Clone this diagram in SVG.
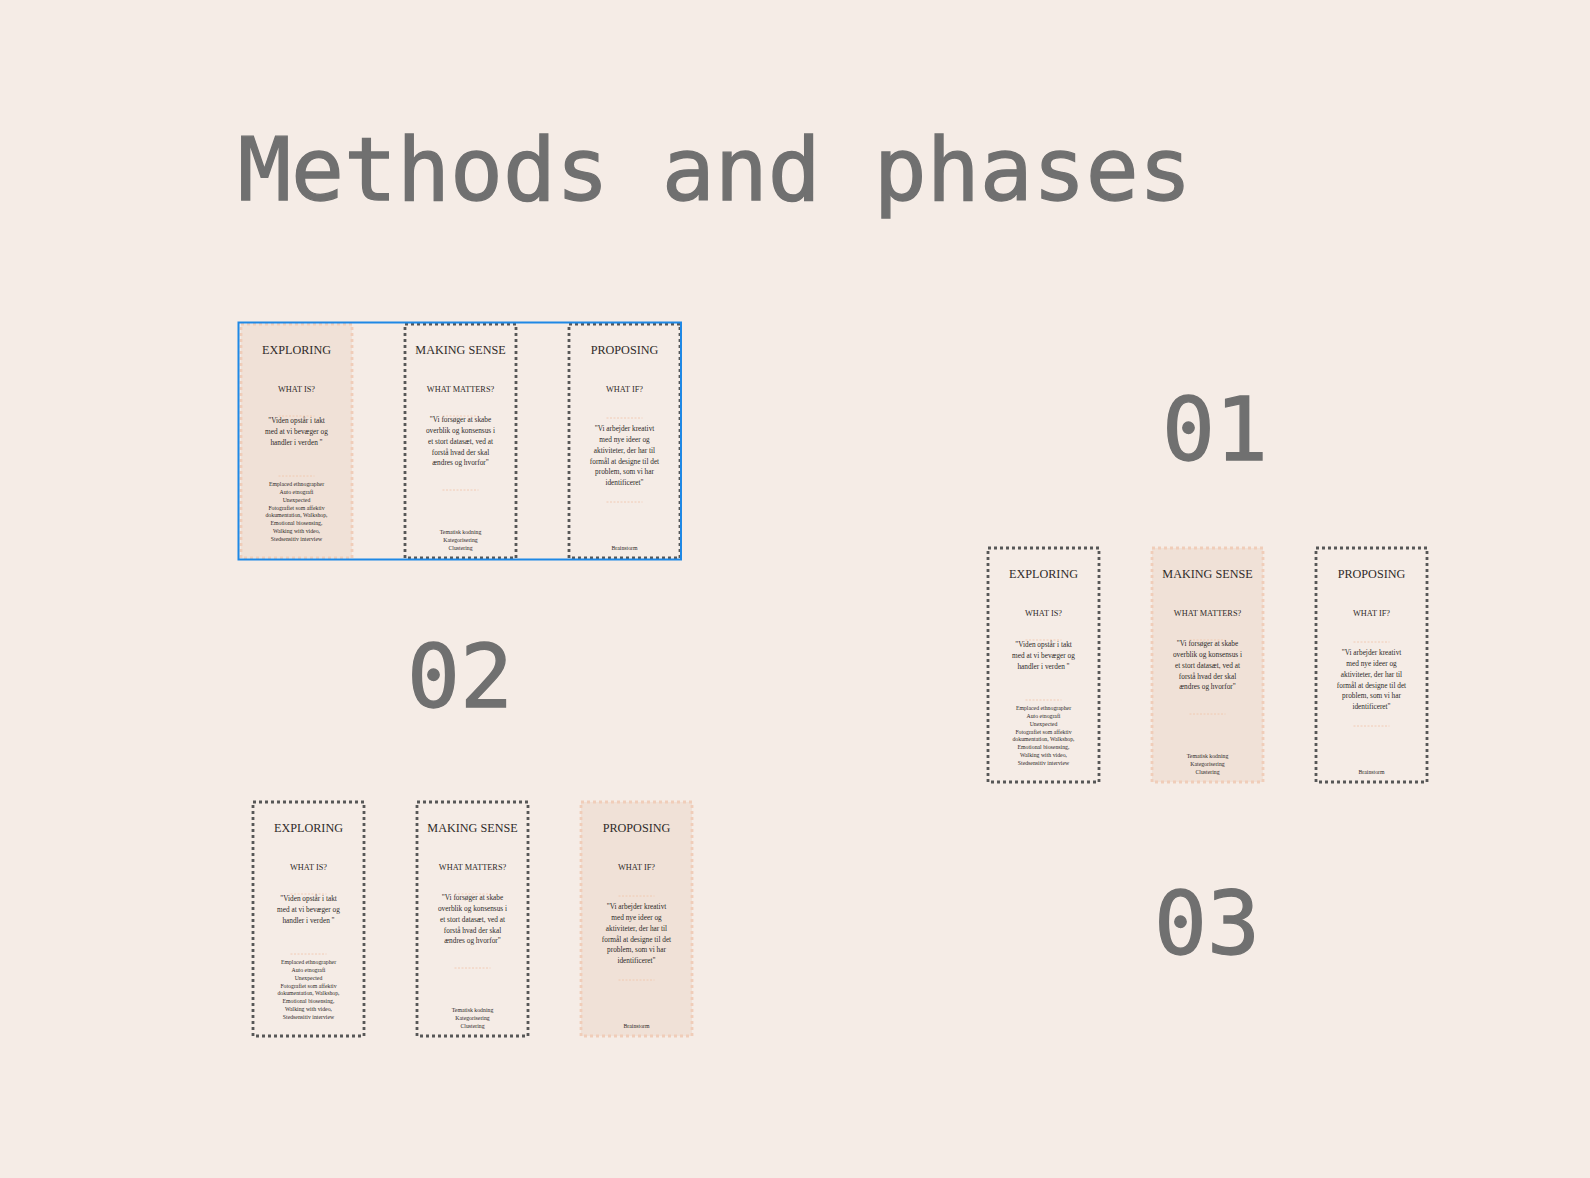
<svg xmlns="http://www.w3.org/2000/svg" width="1590" height="1178" viewBox="0 0 1590 1178">
<style>
.bg{fill:#f5ece6}
.big{font-family:"DejaVu Sans Mono","Liberation Mono",monospace;font-size:88px;fill:#707070;stroke:#707070;stroke-width:1.3}
.card{stroke-width:2.8;stroke-dasharray:3 3}
.dark{fill:none;stroke:#575757}
.hl{fill:#f0e1d7;stroke:#f0cdb9}
.sep{stroke:#f0c4a8;stroke-width:0.8;stroke-dasharray:2 1.5}
text.c{font-family:"Liberation Serif","Times New Roman",serif;fill:#2f2b29;text-anchor:middle}
.t1{font-size:12.2px}
.t2{font-size:8.3px}
.q{font-size:7.3px}
.m{font-size:5.8px}
.sel{fill:none;stroke:#1e88e5;stroke-width:2}
</style>
<rect class="bg" x="0" y="0" width="1590" height="1178"/>
<text class="big" x="238" y="200">Methods and phases</text>
<text class="big" x="1162" y="460">01</text>
<text class="big" x="407" y="707">02</text>
<text class="big" x="1154" y="954">03</text>

<!-- Panel 01 -->
<g id="p1-exploring" transform="translate(241,324)">
<rect class="card hl" x="0" y="0" width="111" height="234"/>
<text class="c t1" x="55.5" y="30">EXPLORING</text>
<text class="c t2" x="55.5" y="68">WHAT IS?</text>
<line class="sep" x1="37.5" y1="92" x2="73.5" y2="92"/>
<text class="c q" x="55.5" y="99">"Viden opstår i takt</text>
<text class="c q" x="55.5" y="110">med at vi bevæger og</text>
<text class="c q" x="55.5" y="121">handler i verden "</text>
<line class="sep" x1="37.5" y1="152" x2="73.5" y2="152"/>
<text class="c m" x="55.5" y="162">Emplaced ethnographer</text>
<text class="c m" x="55.5" y="169.9">Auto etnografi</text>
<text class="c m" x="55.5" y="177.7">Unexpected</text>
<text class="c m" x="55.5" y="185.6">Fotografiet som affektiv</text>
<text class="c m" x="55.5" y="193.4">dokumentation, Walkshop,</text>
<text class="c m" x="55.5" y="201.3">Emotional biosensing,</text>
<text class="c m" x="55.5" y="209.2">Walking with video,</text>
<text class="c m" x="55.5" y="217">Stedsensitiv interview</text>
</g>
<g id="p1-making-sense" transform="translate(405,324)">
<rect class="card dark" x="0" y="0" width="111" height="234"/>
<text class="c t1" x="55.5" y="30">MAKING SENSE</text>
<text class="c t2" x="55.5" y="68">WHAT MATTERS?</text>
<line class="sep" x1="37.5" y1="92" x2="73.5" y2="92"/>
<text class="c q" x="55.5" y="98">"Vi forsøger at skabe</text>
<text class="c q" x="55.5" y="109">overblik og konsensus i</text>
<text class="c q" x="55.5" y="120">et stort datasæt, ved at</text>
<text class="c q" x="55.5" y="130.5">forstå hvad der skal</text>
<text class="c q" x="55.5" y="141">ændres og hvorfor"</text>
<line class="sep" x1="37.5" y1="166" x2="73.5" y2="166"/>
<text class="c m" x="55.5" y="210">Tematisk kodning</text>
<text class="c m" x="55.5" y="218">Kategorisering</text>
<text class="c m" x="55.5" y="226">Clustering</text>
</g>
<g id="p1-proposing" transform="translate(569,324)">
<rect class="card dark" x="0" y="0" width="111" height="234"/>
<text class="c t1" x="55.5" y="30">PROPOSING</text>
<text class="c t2" x="55.5" y="68">WHAT IF?</text>
<line class="sep" x1="37.5" y1="94" x2="73.5" y2="94"/>
<text class="c q" x="55.5" y="107">"Vi arbejder kreativt</text>
<text class="c q" x="55.5" y="118">med nye ideer og</text>
<text class="c q" x="55.5" y="129">aktiviteter, der har til</text>
<text class="c q" x="55.5" y="139.5">formål at designe til det</text>
<text class="c q" x="55.5" y="150">problem, som vi har</text>
<text class="c q" x="55.5" y="161">identificeret"</text>
<line class="sep" x1="37.5" y1="178" x2="73.5" y2="178"/>
<text class="c m" x="55.5" y="226">Brainstorm</text>
</g>
<rect class="sel" x="238.5" y="322.5" width="442.5" height="237"/>

<!-- Panel 02 -->
<g id="p2-exploring" transform="translate(253,802)">
<rect class="card dark" x="0" y="0" width="111" height="234"/>
<text class="c t1" x="55.5" y="30">EXPLORING</text>
<text class="c t2" x="55.5" y="68">WHAT IS?</text>
<line class="sep" x1="37.5" y1="92" x2="73.5" y2="92"/>
<text class="c q" x="55.5" y="99">"Viden opstår i takt</text>
<text class="c q" x="55.5" y="110">med at vi bevæger og</text>
<text class="c q" x="55.5" y="121">handler i verden "</text>
<line class="sep" x1="37.5" y1="152" x2="73.5" y2="152"/>
<text class="c m" x="55.5" y="162">Emplaced ethnographer</text>
<text class="c m" x="55.5" y="169.9">Auto etnografi</text>
<text class="c m" x="55.5" y="177.7">Unexpected</text>
<text class="c m" x="55.5" y="185.6">Fotografiet som affektiv</text>
<text class="c m" x="55.5" y="193.4">dokumentation, Walkshop,</text>
<text class="c m" x="55.5" y="201.3">Emotional biosensing,</text>
<text class="c m" x="55.5" y="209.2">Walking with video,</text>
<text class="c m" x="55.5" y="217">Stedsensitiv interview</text>
</g>
<g id="p2-making-sense" transform="translate(417,802)">
<rect class="card dark" x="0" y="0" width="111" height="234"/>
<text class="c t1" x="55.5" y="30">MAKING SENSE</text>
<text class="c t2" x="55.5" y="68">WHAT MATTERS?</text>
<line class="sep" x1="37.5" y1="92" x2="73.5" y2="92"/>
<text class="c q" x="55.5" y="98">"Vi forsøger at skabe</text>
<text class="c q" x="55.5" y="109">overblik og konsensus i</text>
<text class="c q" x="55.5" y="120">et stort datasæt, ved at</text>
<text class="c q" x="55.5" y="130.5">forstå hvad der skal</text>
<text class="c q" x="55.5" y="141">ændres og hvorfor"</text>
<line class="sep" x1="37.5" y1="166" x2="73.5" y2="166"/>
<text class="c m" x="55.5" y="210">Tematisk kodning</text>
<text class="c m" x="55.5" y="218">Kategorisering</text>
<text class="c m" x="55.5" y="226">Clustering</text>
</g>
<g id="p2-proposing" transform="translate(581,802)">
<rect class="card hl" x="0" y="0" width="111" height="234"/>
<text class="c t1" x="55.5" y="30">PROPOSING</text>
<text class="c t2" x="55.5" y="68">WHAT IF?</text>
<line class="sep" x1="37.5" y1="94" x2="73.5" y2="94"/>
<text class="c q" x="55.5" y="107">"Vi arbejder kreativt</text>
<text class="c q" x="55.5" y="118">med nye ideer og</text>
<text class="c q" x="55.5" y="129">aktiviteter, der har til</text>
<text class="c q" x="55.5" y="139.5">formål at designe til det</text>
<text class="c q" x="55.5" y="150">problem, som vi har</text>
<text class="c q" x="55.5" y="161">identificeret"</text>
<line class="sep" x1="37.5" y1="178" x2="73.5" y2="178"/>
<text class="c m" x="55.5" y="226">Brainstorm</text>
</g>

<!-- Panel 03 -->
<g id="p3-exploring" transform="translate(988,548)">
<rect class="card dark" x="0" y="0" width="111" height="234"/>
<text class="c t1" x="55.5" y="30">EXPLORING</text>
<text class="c t2" x="55.5" y="68">WHAT IS?</text>
<line class="sep" x1="37.5" y1="92" x2="73.5" y2="92"/>
<text class="c q" x="55.5" y="99">"Viden opstår i takt</text>
<text class="c q" x="55.5" y="110">med at vi bevæger og</text>
<text class="c q" x="55.5" y="121">handler i verden "</text>
<line class="sep" x1="37.5" y1="152" x2="73.5" y2="152"/>
<text class="c m" x="55.5" y="162">Emplaced ethnographer</text>
<text class="c m" x="55.5" y="169.9">Auto etnografi</text>
<text class="c m" x="55.5" y="177.7">Unexpected</text>
<text class="c m" x="55.5" y="185.6">Fotografiet som affektiv</text>
<text class="c m" x="55.5" y="193.4">dokumentation, Walkshop,</text>
<text class="c m" x="55.5" y="201.3">Emotional biosensing,</text>
<text class="c m" x="55.5" y="209.2">Walking with video,</text>
<text class="c m" x="55.5" y="217">Stedsensitiv interview</text>
</g>
<g id="p3-making-sense" transform="translate(1152,548)">
<rect class="card hl" x="0" y="0" width="111" height="234"/>
<text class="c t1" x="55.5" y="30">MAKING SENSE</text>
<text class="c t2" x="55.5" y="68">WHAT MATTERS?</text>
<line class="sep" x1="37.5" y1="92" x2="73.5" y2="92"/>
<text class="c q" x="55.5" y="98">"Vi forsøger at skabe</text>
<text class="c q" x="55.5" y="109">overblik og konsensus i</text>
<text class="c q" x="55.5" y="120">et stort datasæt, ved at</text>
<text class="c q" x="55.5" y="130.5">forstå hvad der skal</text>
<text class="c q" x="55.5" y="141">ændres og hvorfor"</text>
<line class="sep" x1="37.5" y1="166" x2="73.5" y2="166"/>
<text class="c m" x="55.5" y="210">Tematisk kodning</text>
<text class="c m" x="55.5" y="218">Kategorisering</text>
<text class="c m" x="55.5" y="226">Clustering</text>
</g>
<g id="p3-proposing" transform="translate(1316,548)">
<rect class="card dark" x="0" y="0" width="111" height="234"/>
<text class="c t1" x="55.5" y="30">PROPOSING</text>
<text class="c t2" x="55.5" y="68">WHAT IF?</text>
<line class="sep" x1="37.5" y1="94" x2="73.5" y2="94"/>
<text class="c q" x="55.5" y="107">"Vi arbejder kreativt</text>
<text class="c q" x="55.5" y="118">med nye ideer og</text>
<text class="c q" x="55.5" y="129">aktiviteter, der har til</text>
<text class="c q" x="55.5" y="139.5">formål at designe til det</text>
<text class="c q" x="55.5" y="150">problem, som vi har</text>
<text class="c q" x="55.5" y="161">identificeret"</text>
<line class="sep" x1="37.5" y1="178" x2="73.5" y2="178"/>
<text class="c m" x="55.5" y="226">Brainstorm</text>
</g>
<g id="connectors"></g>
</svg>
